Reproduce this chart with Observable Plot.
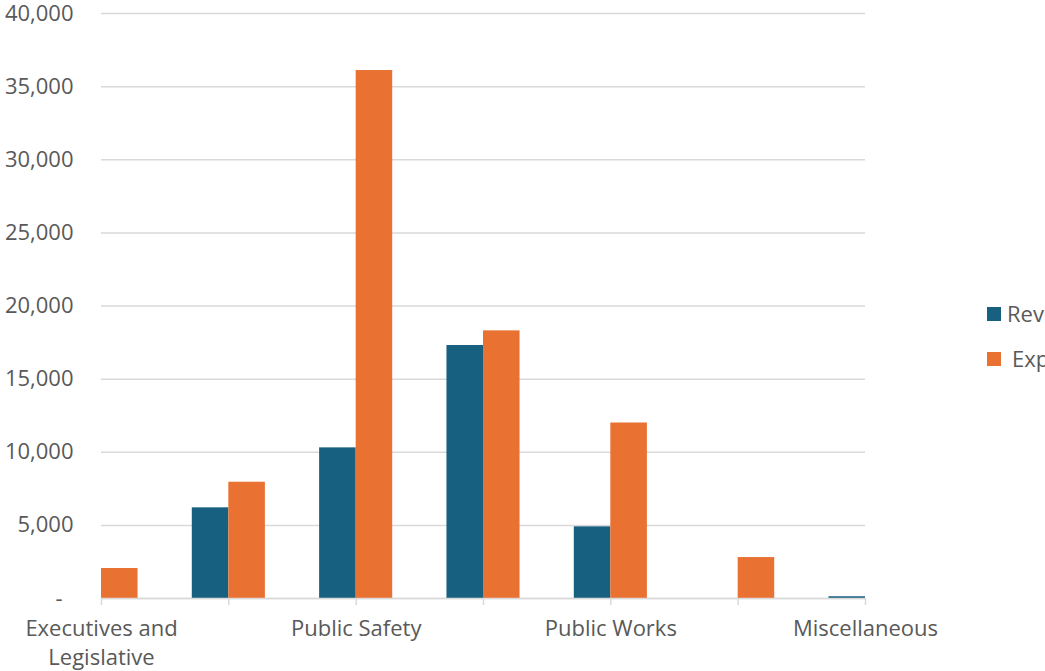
<!DOCTYPE html>
<html>
<head>
<meta charset="utf-8">
<script src="https://cdn.jsdelivr.net/npm/d3@7"></script>
<script src="https://cdn.jsdelivr.net/npm/@observablehq/plot@0.6"></script>
<style>
  html, body { margin: 0; padding: 0; background: #fff; overflow: hidden; width: 1045px; height: 671px; }
  #wrap { position: relative; width: 1045px; height: 671px; font-family: "Open Sans", sans-serif; }
  #wrap svg { display: block; }
  .leg { position: absolute; font-size: 22px; color: #595959; white-space: nowrap; line-height: 1; }
  .sw { position: absolute; width: 14px; height: 14px; }
</style>
</head>
<body>
<div id="wrap"></div>
<script>
// Category tick labels (only every other label is shown in the reference)
const tickLabels = ["Executives and\nLegislative", "", "Public Safety", "", "Public Works", "", "Miscellaneous"];
const seriesNames = ["Revenues", "Expenditures"];
const revenue = [0, 6200, 10300, 17300, 4900, 0, 120];
const expenditure = [2050, 7950, 36100, 18300, 12000, 2800, 60];
const yTicks = [0, 5000, 10000, 15000, 20000, 25000, 30000, 35000, 40000];
const colors = ["#17607f", "#e97132"];

const barW = 0.287;
const rows = tickLabels.flatMap((_, i) => [
  {i, series: seriesNames[0], value: revenue[i]},
  {i, series: seriesNames[1], value: expenditure[i]}
]);

const fmt = d3.format(",");
const plot = Plot.plot({
  width: 1045,
  height: 671,
  marginLeft: 101,
  marginRight: 180,
  marginTop: 13,
  marginBottom: 73,
  style: {fontFamily: "Open Sans, sans-serif", fontSize: "22px", color: "#595959", background: "#fff"},
  x: {domain: [0, tickLabels.length - 1]},
  y: {domain: [0, 40000]},
  color: {domain: seriesNames, range: colors},
  marks: [
    Plot.gridY(yTicks, {stroke: "#d9d9d9", strokeOpacity: 1, strokeWidth: 1.5}),
    Plot.rectY(rows, {
      x1: d => d.series === seriesNames[0] ? d.i - barW : d.i,
      x2: d => d.series === seriesNames[0] ? d.i : d.i + barW,
      y1: 0,
      y2: "value",
      fill: "series",
      clip: true
    }),
    Plot.ruleY([0], {stroke: "#d9d9d9", strokeWidth: 1.5}),
    Plot.axisY(yTicks, {
      tickSize: 0,
      tickPadding: 28,
      fill: "#595959",
      fontSize: 22,
      tickFormat: d => d === 0 ? "-\u2002" : fmt(d),
      label: null
    }),
    Plot.axisX(d3.range(tickLabels.length), {
      tickSize: 7,
      stroke: "#d9d9d9",
      strokeWidth: 1.5,
      tickPadding: 10,
      fill: "#595959",
      fontSize: 22,
      lineHeight: 1.32,
      tickFormat: i => tickLabels[i],
      label: null
    })
  ]
});
const wrap = document.getElementById("wrap");
wrap.appendChild(plot);

// Legend
const legendPos = [{sx: 987, sy: 307, tx: 1007}, {sx: 987, sy: 352, tx: 1012}];
seriesNames.forEach((name, k) => {
  const sw = document.createElement("div");
  sw.className = "sw";
  sw.style.left = legendPos[k].sx + "px";
  sw.style.top = legendPos[k].sy + "px";
  sw.style.background = colors[k];
  wrap.appendChild(sw);
  const t = document.createElement("div");
  t.className = "leg";
  t.style.left = legendPos[k].tx + "px";
  t.style.top = (legendPos[k].sy - 5) + "px";
  t.textContent = name;
  wrap.appendChild(t);
});
</script>
</body>
</html>
